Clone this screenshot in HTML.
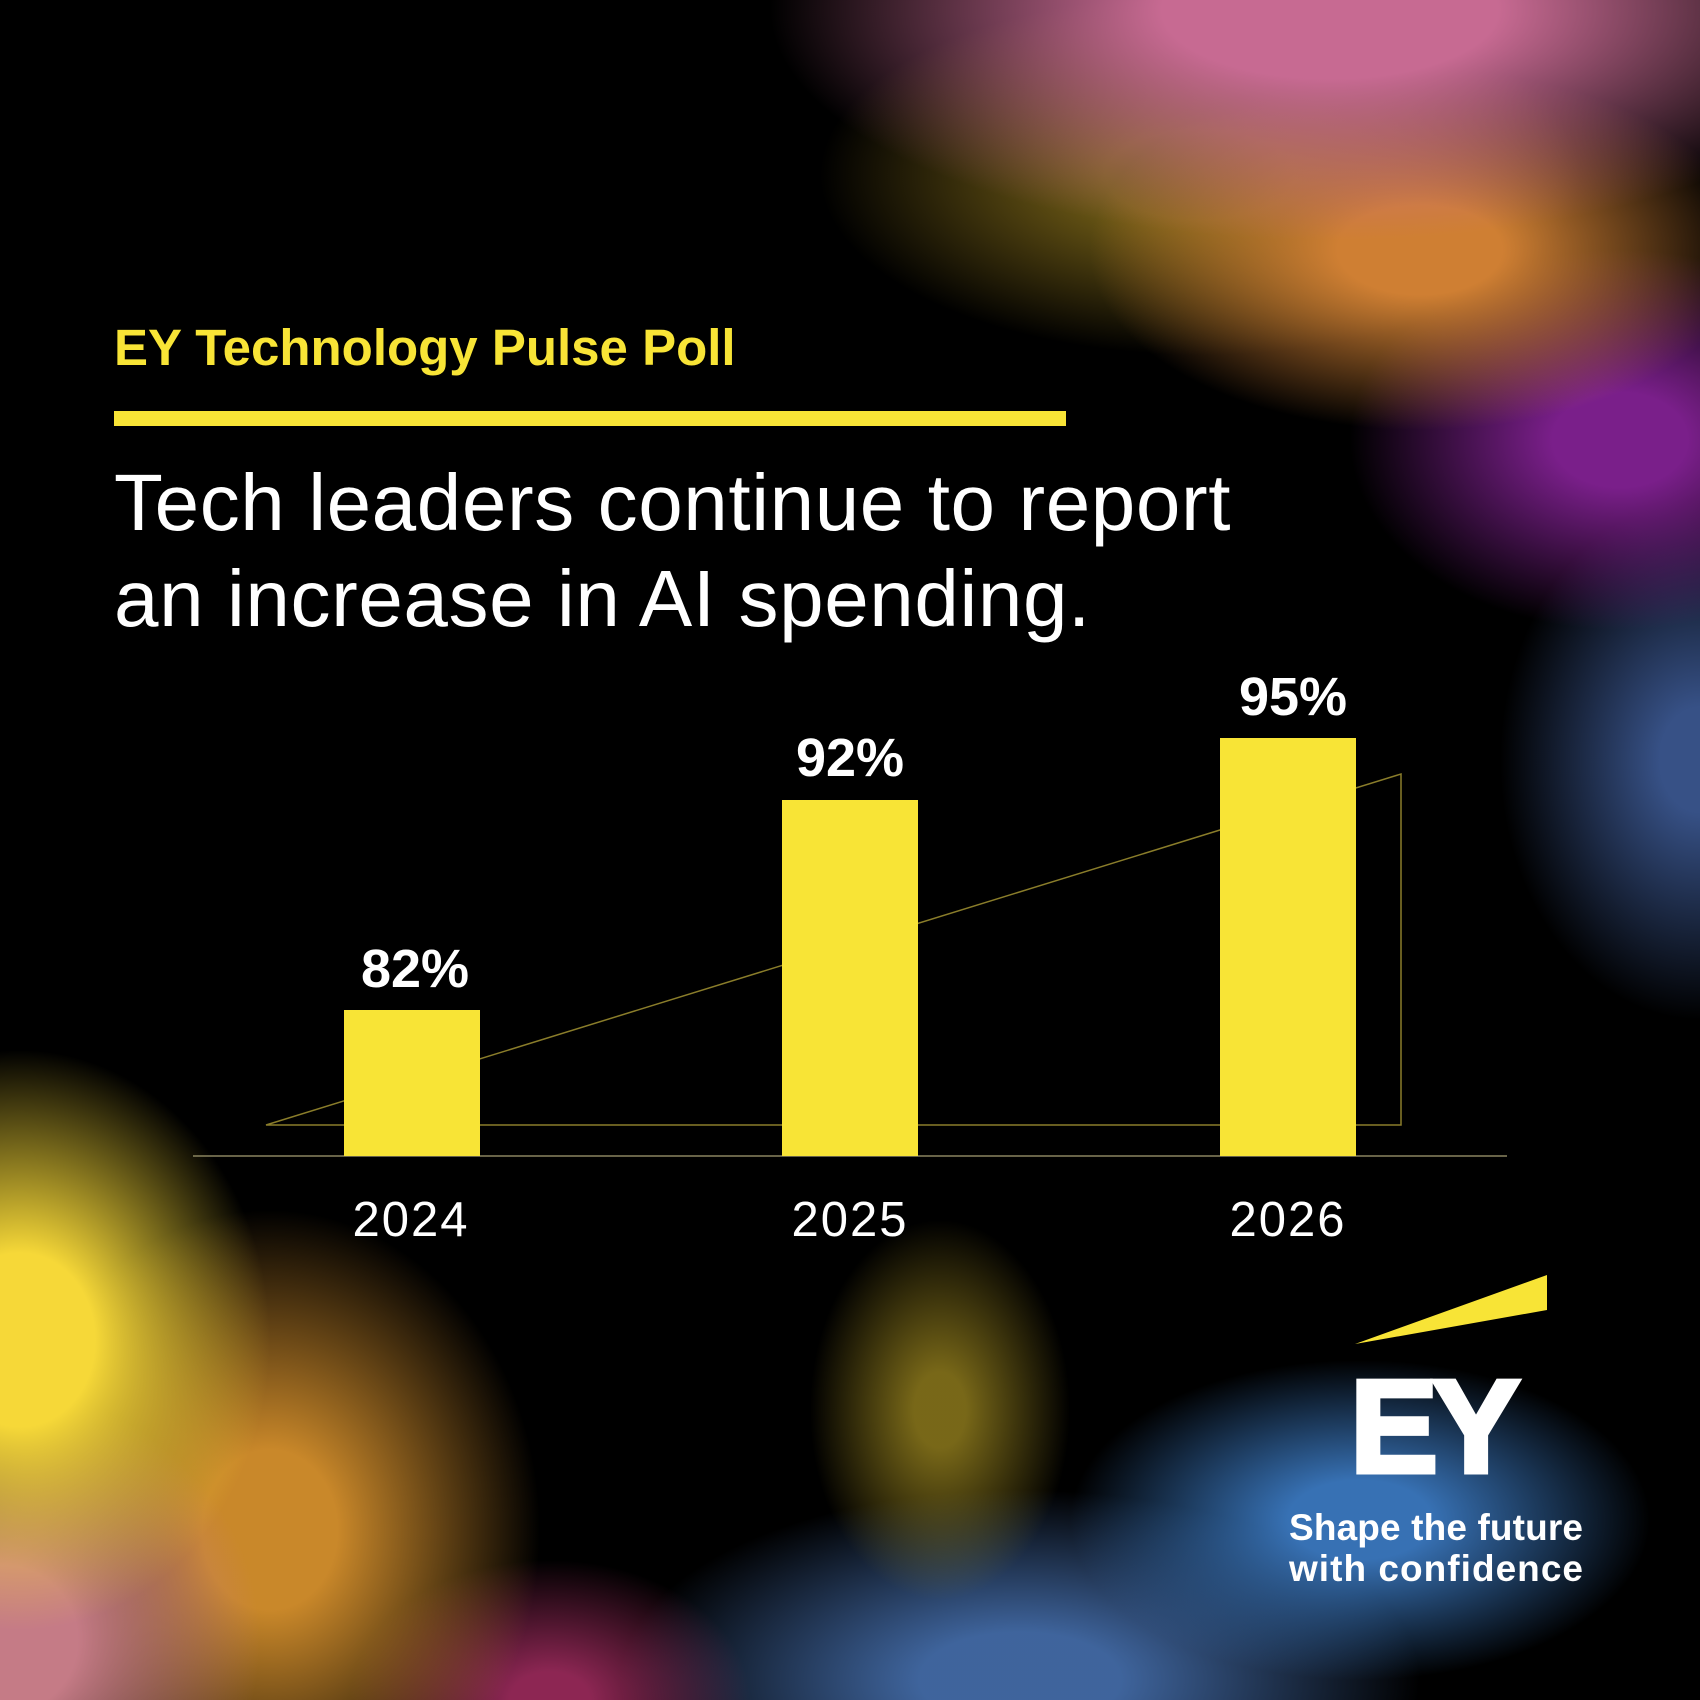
<!DOCTYPE html>
<html><head><meta charset="utf-8"><style>
html,body{margin:0;padding:0;background:#000;width:1700px;height:1700px;overflow:hidden;}
#c{position:relative;width:1700px;height:1700px;overflow:hidden;font-family:"Liberation Sans",sans-serif;
background:
radial-gradient(ellipse 560px 230px at 1330px 10px, rgba(199,106,146,1) 30%, rgba(199,106,146,0) 100%),
radial-gradient(ellipse 330px 180px at 1420px 250px, rgba(207,127,51,1) 25%, rgba(207,127,51,0) 100%),
radial-gradient(ellipse 380px 180px at 1200px 175px, rgba(122,100,24,.95) 25%, rgba(122,100,24,0) 100%),
radial-gradient(ellipse 270px 190px at 1620px 440px, rgba(122,31,138,1) 25%, rgba(122,31,138,0) 100%),
radial-gradient(ellipse 200px 260px at 1700px 760px, rgba(61,90,149,.9) 20%, rgba(61,90,149,0) 100%),
radial-gradient(ellipse 250px 290px at 20px 1340px, rgba(246,216,56,1) 30%, rgba(246,216,56,0) 100%),
radial-gradient(ellipse 260px 250px at 0px 1640px, rgba(197,123,134,1) 30%, rgba(197,123,134,0) 100%),
radial-gradient(ellipse 270px 320px at 270px 1530px, rgba(212,143,44,.95) 25%, rgba(212,143,44,0) 100%),
radial-gradient(ellipse 200px 140px at 550px 1700px, rgba(176,48,104,.8) 20%, rgba(176,48,104,0) 100%),
radial-gradient(ellipse 130px 190px at 940px 1410px, rgba(160,138,32,.75) 20%, rgba(160,138,32,0) 100%),
radial-gradient(ellipse 290px 160px at 1360px 1520px, rgba(61,125,199,.9) 25%, rgba(61,125,199,0) 100%),
radial-gradient(ellipse 400px 190px at 1020px 1680px, rgba(74,118,184,.85) 25%, rgba(74,118,184,0) 100%),
#000;}
.t{position:absolute;white-space:nowrap;}
</style></head><body><div id="c">
<div class="t" style="left:114px;top:318px;font-size:51px;font-weight:bold;color:#f8e436;">EY Technology Pulse Poll</div>
<div style="position:absolute;left:114px;top:411px;width:952px;height:15px;background:#f8e436;"></div>
<div class="t" style="left:114px;top:455px;font-size:80px;line-height:96px;color:#fff;letter-spacing:0.6px;">Tech leaders continue to report<br>an increase in AI spending.</div>

<svg style="position:absolute;left:0;top:0" width="1700" height="1700">
<polygon points="266,1125 1401,774 1401,1125" fill="none" stroke="#8a7d2a" stroke-width="1.5"/>
<line x1="193" y1="1156" x2="1507" y2="1156" stroke="#8a8460" stroke-width="1.5"/>
<rect x="344" y="1010" width="136" height="146" fill="#f8e436"/>
<rect x="782" y="800" width="136" height="356" fill="#f8e436"/>
<rect x="1220" y="738" width="136" height="418" fill="#f8e436"/>
<g font-family="Liberation Sans, sans-serif" fill="#fff" text-anchor="middle">
<text x="415" y="987" font-size="54" font-weight="bold">82%</text>
<text x="850" y="776" font-size="54" font-weight="bold">92%</text>
<text x="1293" y="715" font-size="54" font-weight="bold">95%</text>
<text x="411" y="1236" font-size="49" letter-spacing="2">2024</text>
<text x="850" y="1236" font-size="49" letter-spacing="2">2025</text>
<text x="1288" y="1236" font-size="49" letter-spacing="2">2026</text>
</g>
<polygon points="1355,1344 1547,1275 1547,1310" fill="#f8e436"/>
<text x="1350" y="1472" font-family="Liberation Sans, sans-serif" font-size="132" font-weight="bold" fill="#fff" stroke="#fff" stroke-width="5" letter-spacing="-6">EY</text>
<g font-family="Liberation Sans, sans-serif" font-size="37" font-weight="bold" fill="#fff">
<text x="1289" y="1540" textLength="294">Shape the future</text>
<text x="1289" y="1581" textLength="294">with confidence</text>
</g>
</svg>
</div></body></html>
